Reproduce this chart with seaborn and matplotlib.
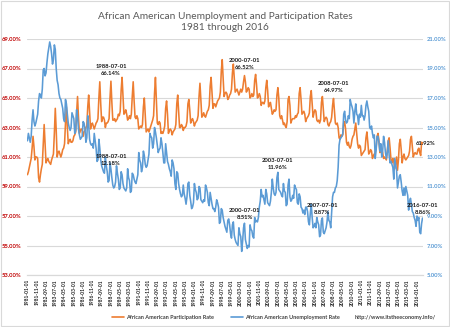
import numpy as np
import pandas as pd
import matplotlib
matplotlib.use("Agg")
import matplotlib.pyplot as plt
from matplotlib.lines import Line2D
from matplotlib.patches import Rectangle
import seaborn as sns

# ---------------- data ----------------
start_date = "1981-01-01"
title = "African American Unemployment and Participation Rates\n1981 through 2016"
series_names = ["African American Participation Rate", "African American Unemployment Rate"]
source_text = "http://www.itstheeconomy.info/"

participation = [
    59.8, 60.0, 60.3, 60.6, 60.9, 61.6, 62.4, 61.7, 60.8, 61.0, 61.0, 60.9,  # 1981
    59.6, 59.3, 59.8, 60.2, 60.5, 61.9, 63.2, 61.9, 60.6, 60.8, 60.9, 60.7,  # 1982
    60.6, 60.5, 60.8, 61.0, 61.2, 62.6, 64.3, 62.8, 61.0, 61.3, 61.4, 61.2,  # 1983
    61.0, 61.2, 61.5, 61.6, 61.9, 63.3, 64.4, 63.0, 61.9, 62.1, 62.2, 62.0,  # 1984
    62.0, 62.1, 62.4, 62.5, 62.7, 64.0, 65.1, 63.7, 62.6, 62.8, 62.9, 62.8,  # 1985
    62.4, 62.7, 62.8, 63.0, 63.1, 64.4, 65.2, 64.0, 62.9, 63.2, 63.3, 63.1,  # 1986
    62.9, 63.1, 63.3, 63.4, 63.6, 65.0, 66.1, 64.6, 63.4, 63.7, 63.7, 63.5,  # 1987
    63.0, 63.3, 63.3, 63.4, 63.6, 65.0, 66.14, 64.7, 63.5, 63.5, 63.6, 63.4,  # 1988
    63.5, 63.6, 63.9, 63.8, 64.1, 65.5, 66.4, 65.1, 63.9, 64.0, 64.2, 63.9,  # 1989
    63.5, 63.6, 63.8, 63.6, 63.9, 65.1, 66.1, 64.8, 63.7, 63.6, 63.8, 63.6,  # 1990
    62.9, 63.0, 63.1, 63.0, 63.2, 64.4, 65.0, 63.9, 62.7, 62.8, 62.9, 62.7,  # 1991
    62.9, 63.1, 63.3, 63.5, 63.8, 65.3, 66.4, 64.9, 63.3, 63.2, 63.4, 63.3,  # 1992
    62.6, 62.7, 62.6, 62.8, 63.1, 64.3, 64.8, 63.9, 62.6, 62.8, 62.9, 62.8,  # 1993
    62.5, 62.7, 62.8, 62.9, 63.2, 64.6, 65.2, 64.1, 63.0, 63.0, 63.2, 63.1,  # 1994
    62.8, 63.0, 63.0, 63.1, 63.4, 64.6, 64.9, 64.2, 63.3, 63.5, 63.6, 63.4,  # 1995
    63.1, 63.3, 63.4, 63.5, 63.8, 65.1, 66.0, 64.9, 63.7, 63.8, 64.0, 63.8,  # 1996
    63.7, 63.9, 64.1, 64.2, 64.5, 65.8, 66.4, 65.4, 64.3, 64.6, 64.6, 64.4,  # 1997
    64.6, 64.8, 64.9, 65.0, 65.4, 66.8, 67.6, 66.3, 65.1, 65.3, 65.4, 65.3,  # 1998
    64.9, 65.0, 65.2, 65.3, 65.6, 66.7, 67.3, 66.4, 65.4, 65.5, 65.6, 65.4,  # 1999
    65.2, 65.4, 65.6, 65.4, 65.6, 66.1, 66.52, 66.1, 65.4, 65.5, 65.7, 65.6,  # 2000
    65.0, 65.1, 65.3, 65.1, 65.2, 66.2, 66.6, 65.9, 65.0, 65.1, 65.3, 65.1,  # 2001
    64.5, 64.7, 64.7, 64.6, 64.8, 65.7, 66.2, 65.5, 64.4, 64.6, 64.7, 64.3,  # 2002
    63.9, 64.0, 64.2, 64.1, 64.2, 65.2, 65.7, 65.0, 63.8, 63.6, 63.8, 63.5,  # 2003
    63.2, 63.3, 63.1, 63.0, 63.4, 64.9, 65.1, 64.5, 63.3, 63.5, 63.6, 63.6,  # 2004
    63.6, 63.8, 63.7, 63.9, 64.0, 65.3, 65.7, 64.9, 63.9, 64.0, 64.1, 63.9,  # 2005
    63.4, 63.6, 63.7, 63.8, 64.0, 65.1, 65.5, 64.6, 63.7, 64.0, 64.2, 64.1,  # 2006
    63.5, 63.4, 63.5, 63.3, 63.5, 64.7, 65.1, 64.2, 63.4, 63.6, 63.7, 63.6,  # 2007
    63.2, 63.1, 63.3, 63.4, 63.7, 64.5, 64.97, 64.1, 63.3, 63.2, 63.3, 63.0,  # 2008
    62.3, 62.2, 62.5, 62.4, 62.5, 63.3, 63.4, 62.9, 62.0, 61.8, 62.0, 61.7,  # 2009
    61.6, 61.8, 62.2, 62.4, 62.5, 62.9, 63.3, 62.6, 61.9, 61.6, 61.8, 61.7,  # 2010
    61.1, 61.2, 61.3, 61.4, 61.5, 62.3, 62.7, 62.0, 61.2, 61.3, 61.5, 61.4,  # 2011
    60.9, 61.1, 61.2, 61.3, 61.7, 62.4, 62.6, 62.1, 61.3, 61.6, 61.5, 61.3,  # 2012
    60.9, 61.0, 60.9, 60.8, 61.4, 62.1, 62.3, 61.6, 60.8, 60.6, 60.9, 60.7,  # 2013
    60.2, 60.6, 61.0, 60.1, 60.8, 61.9, 62.2, 61.5, 60.6, 61.0, 61.2, 60.9,  # 2014
    60.8, 60.9, 61.0, 61.1, 61.4, 62.2, 62.4, 61.7, 61.0, 61.2, 61.3, 61.2,  # 2015
    61.2, 61.5, 61.6, 61.3, 61.1, 62.0, 61.92,                               # 2016
]

unemployment = [
    14.1, 14.6, 14.3, 14.0, 14.4, 15.5, 16.2, 15.4, 15.1, 15.3, 15.6, 15.9,  # 1981
    16.8, 17.3, 17.2, 17.0, 17.6, 18.9, 19.0, 18.5, 18.7, 19.4, 20.0, 20.4,  # 1982
    20.8, 20.5, 20.0, 19.3, 19.6, 20.6, 20.3, 19.0, 18.2, 17.9, 17.3, 17.0,  # 1983
    16.9, 16.6, 16.3, 15.6, 15.4, 16.9, 16.6, 15.9, 15.3, 15.0, 14.8, 15.0,  # 1984
    16.0, 15.8, 15.6, 14.6, 14.8, 16.2, 15.7, 14.9, 14.5, 14.2, 14.3, 14.4,  # 1985
    15.4, 15.3, 14.9, 14.0, 14.3, 15.8, 15.2, 14.2, 13.9, 13.8, 13.9, 13.6,  # 1986
    14.6, 14.1, 13.6, 12.7, 12.8, 14.2, 13.6, 12.8, 12.4, 12.2, 12.0, 11.9,  # 1987
    13.0, 12.4, 12.0, 11.3, 11.4, 12.6, 12.18, 11.6, 11.1, 10.9, 11.0, 11.3,  # 1988
    12.4, 11.9, 11.5, 10.8, 10.9, 12.0, 11.8, 11.2, 10.9, 10.8, 10.7, 10.9,  # 1989
    12.2, 11.6, 11.4, 10.6, 10.7, 11.9, 11.8, 11.5, 11.3, 11.2, 11.5, 11.8,  # 1990
    13.3, 12.8, 12.6, 12.0, 12.3, 13.4, 13.1, 12.5, 12.3, 12.4, 12.8, 13.2,  # 1991
    14.6, 14.4, 14.3, 13.6, 13.9, 15.0, 14.7, 14.3, 13.8, 13.3, 13.5, 13.6,  # 1992
    14.3, 13.9, 13.3, 12.6, 12.6, 13.9, 13.3, 12.7, 12.5, 12.2, 12.0, 11.7,  # 1993
    12.8, 12.6, 12.2, 11.2, 10.8, 12.0, 11.9, 11.2, 10.8, 10.5, 10.3, 10.4,  # 1994
    11.1, 10.5, 10.2, 9.8, 10.3, 11.2, 11.3, 10.4, 10.0, 9.5, 9.6, 9.9,      # 1995
    11.2, 10.8, 10.6, 10.1, 10.2, 11.0, 10.9, 10.1, 10.0, 9.9, 10.1, 10.0,   # 1996
    11.1, 10.9, 10.6, 9.9, 9.7, 10.6, 10.2, 9.8, 9.5, 9.5, 9.3, 9.6,         # 1997
    10.1, 9.9, 9.6, 8.5, 8.6, 9.5, 9.4, 8.9, 8.6, 8.3, 8.1, 7.9,             # 1998
    8.7, 8.8, 8.4, 7.8, 7.5, 8.4, 8.6, 7.7, 7.4, 7.2, 7.1, 7.0,              # 1999
    8.2, 7.8, 7.6, 6.6, 7.3, 8.2, 8.51, 7.4, 7.1, 6.8, 7.0, 6.9,             # 2000
    8.4, 8.1, 8.0, 7.6, 7.5, 8.9, 8.6, 8.7, 8.6, 8.9, 9.6, 10.0,             # 2001
    10.8, 10.3, 10.4, 10.1, 9.8, 10.8, 10.5, 9.9, 9.8, 9.7, 10.0, 10.6,      # 2002
    11.5, 10.9, 10.5, 10.4, 10.6, 11.6, 11.96, 10.8, 10.7, 10.6, 10.4, 10.3,  # 2003
    11.2, 10.7, 10.6, 9.7, 9.8, 11.1, 11.5, 10.3, 10.0, 10.1, 10.4, 10.2,    # 2004
    11.1, 10.9, 10.8, 9.9, 9.8, 10.5, 10.3, 9.6, 9.5, 9.2, 9.4, 9.1,         # 2005
    9.6, 9.6, 9.3, 8.6, 8.4, 9.2, 9.8, 8.9, 8.2, 8.3, 8.5, 8.2,              # 2006
    8.9, 8.6, 8.4, 7.6, 7.7, 8.7, 8.87, 7.9, 7.8, 8.0, 8.2, 8.6,             # 2007
    9.3, 8.7, 8.6, 8.2, 9.2, 10.3, 10.6, 10.6, 10.9, 11.0, 11.4, 12.3,       # 2008
    13.8, 14.2, 14.3, 14.4, 14.6, 15.9, 16.1, 15.5, 15.3, 15.4, 15.8, 15.6,  # 2009
    16.9, 16.6, 16.4, 16.1, 15.3, 16.1, 16.6, 15.9, 15.8, 15.2, 15.9, 15.7,  # 2010
    16.5, 15.8, 15.8, 15.5, 15.8, 16.5, 16.8, 16.4, 16.1, 15.0, 14.9, 15.1,  # 2011
    14.6, 14.3, 14.5, 12.9, 13.5, 14.4, 14.4, 14.0, 13.4, 13.9, 13.0, 13.4,  # 2012
    14.4, 14.0, 13.3, 12.9, 13.3, 14.1, 13.1, 12.6, 12.7, 12.5, 12.3, 11.5,  # 2013
    12.9, 12.5, 12.1, 10.9, 11.3, 11.7, 11.8, 11.3, 10.7, 10.4, 10.9, 10.4,  # 2014
    11.0, 10.7, 10.4, 9.4, 10.0, 10.2, 9.8, 9.3, 9.2, 8.9, 8.7, 8.3,         # 2015
    9.0, 8.7, 8.9, 7.9, 7.8, 8.5, 8.86,                                      # 2016
]

# labelled points (date strings)
part_labels = ["1988-07-01", "2000-07-01", "2008-07-01"]
unemp_labels = ["1988-07-01", "2000-07-01", "2003-07-01", "2007-07-01", "2016-07-01"]
end_label = "2016-07-01"

left_ticks = [53, 55, 57, 59, 61, 63, 65, 67, 69]
right_ticks = [5, 7, 9, 11, 13, 15, 17, 19, 21]
tick_every = 10

# ---------------- build ----------------
dates = pd.date_range(start_date, periods=len(participation), freq="MS")
df = pd.DataFrame({"idx": np.arange(len(dates)), "date": dates,
                   "part": participation, "unemp": unemployment[:len(dates)]})
date_str = df["date"].dt.strftime("%Y-%m-%d").tolist()

ORANGE = "#ED7D31"
BLUE = "#5B9BD5"
RED = "#C00000"
GRID = "#D9D9D9"
FONT = "Lato"

sns.set_theme(style="white")
plt.rcParams["font.family"] = [FONT, "DejaVu Sans"]

fig = plt.figure(figsize=(4.5, 3.27), dpi=100)
ax = fig.add_axes([27/450, 1 - 275/327, (423 - 27)/450, (275 - 39)/327])
ax2 = ax.twinx()

sns.lineplot(data=df, x="idx", y="part", ax=ax, color=ORANGE, lw=1.15)
sns.lineplot(data=df, x="idx", y="unemp", ax=ax2, color=BLUE, lw=1.15)

n = len(df)
ax.set_xlim(-0.5, n - 0.5)
ax.set_ylim(left_ticks[0], left_ticks[-1])
ax2.set_ylim(right_ticks[0], right_ticks[-1])
ax.set_yticks(left_ticks)
ax2.set_yticks(right_ticks)
ax.set_yticklabels([f"{v:.2f}%" for v in left_ticks], color=RED, fontsize=4.2,
                   fontweight="bold")
ax2.set_yticklabels([f"{v:.2f}%" for v in right_ticks], color=BLUE, fontsize=4.2,
                    fontweight="bold")
ax.tick_params(axis="y", length=0, pad=4)
ax2.tick_params(axis="y", length=0, pad=3)

xt = list(range(0, n, tick_every))
ax.set_xticks(xt)
ax.set_xticklabels([date_str[i] for i in xt], rotation=90, fontsize=3.5,
                   fontweight="bold", color="#262626")
ax.tick_params(axis="x", length=0, pad=3)
ax.set_xlabel("")
ax.set_ylabel("")
ax2.set_ylabel("")

ax.grid(axis="y", color=GRID, lw=0.8)
ax.grid(axis="x", visible=False)
ax2.grid(False)
for a in (ax, ax2):
    for s in ("top", "left", "right"):
        a.spines[s].set_visible(False)
    a.spines["bottom"].set_color(GRID)
    a.spines["bottom"].set_linewidth(0.8)
    a.patch.set_visible(False)

ann_kw = dict(textcoords="offset points", ha="center", va="bottom",
              fontsize=4.2, fontweight="bold", color="#1a1a1a", linespacing=1.5)
for d in part_labels:
    i = date_str.index(d)
    ax.annotate(f"{d}\n{df['part'][i]:.2f}%", xy=(i, df["part"][i]), xytext=(0, 4), **ann_kw)
for d in unemp_labels:
    i = date_str.index(d)
    ax2.annotate(f"{d}\n{df['unemp'][i]:.2f}%", xy=(i, df["unemp"][i]), xytext=(0, 2), **ann_kw)
i_end = date_str.index(end_label)
ax.annotate(f"{df['part'][i_end]:.2f}%", xy=(i_end, df["part"][i_end]), xytext=(2, 0),
            textcoords="offset points", ha="center", va="center",
            fontsize=4.2, fontweight="bold", color="#1a1a1a")

fig.text(0.5, 1 - 12/327, title, ha="center", va="top", fontsize=7.3,
         color="#595959", linespacing=1.3)

# legend
ly = 1 - 317/327
fig.add_artist(Line2D([112/450, 124/450], [ly, ly], color=ORANGE, lw=1.2))
fig.text(126/450, ly, series_names[0], ha="left", va="center", fontsize=4.0,
         fontweight="bold", color="#404040")
fig.add_artist(Line2D([231/450, 243/450], [ly, ly], color=BLUE, lw=1.2))
fig.text(245/450, ly, series_names[1], ha="left", va="center", fontsize=4.0,
         fontweight="bold", color="#404040")
fig.text(355/450, ly, source_text, ha="left", va="center", fontsize=4.0,
         fontweight="bold", color="#404040")

fig.add_artist(Rectangle((0.002, 0.003), 0.995, 0.994, transform=fig.transFigure,
                         fill=False, edgecolor=GRID, lw=0.8))

fig.savefig("out.png", dpi=100, facecolor="white")
